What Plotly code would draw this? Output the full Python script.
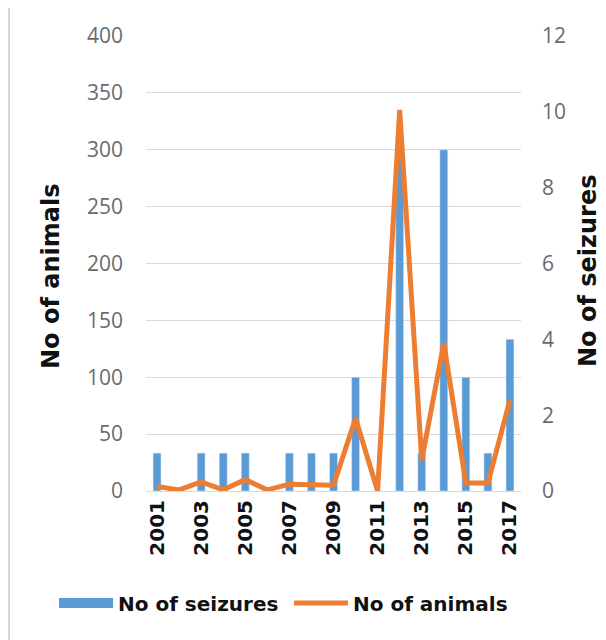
import plotly.graph_objects as go

years = list(range(2001, 2018))
seizures = [1, 0, 1, 1, 1, 0, 1, 1, 1, 3, 0, 9, 1, 9, 3, 1, 4]
animals = [4, 1, 8, 1, 10, 1, 6, 5, 5, 64, 0, 335, 27, 130, 7, 7, 80]
tick_years = list(range(2001, 2018, 2))

BLUE = "#5B9BD5"
ORANGE = "#ED7D31"
BOLD = "DejaVu Sans, sans-serif"

# page is offset by the 8px body margin, so work in window coords minus 8
W, H = 598, 632
PL, PT, PW, PH = 146 - 8, 36 - 8, 375, 455


def px(xw):
    return (xw - 146) / PW


def py(yw):
    return (491 - yw) / PH


fig = go.Figure()
fig.add_trace(go.Bar(
    x=years, y=seizures, name="No of seizures", marker_color=BLUE,
    width=0.36, yaxis="y", showlegend=False))
fig.add_trace(go.Scatter(
    x=[None], y=[None], name="No of seizures", mode="lines",
    line=dict(color=BLUE, width=12), yaxis="y"))
fig.add_trace(go.Scatter(
    x=years, y=animals, name="No of animals", mode="lines",
    line=dict(color=ORANGE, width=5), yaxis="y2"))

tickfont = dict(family="Open Sans, sans-serif", size=21, color="#6b6b6b")
titlefont = dict(family=BOLD, size=24, color="#111111", weight="bold")

fig.update_layout(
    width=W, height=H,
    margin=dict(l=PL, r=W - PL - PW, t=PT, b=H - PT - PH),
    paper_bgcolor="white", plot_bgcolor="white",
    showlegend=True,
    legend=dict(orientation="h", x=px(54), xanchor="left", y=py(603), yanchor="middle",
                font=dict(family=BOLD, size=20, color="#111111", weight="bold"),
                traceorder="normal", itemwidth=54, entrywidth=166, entrywidthmode="pixels",
                bgcolor="rgba(0,0,0,0)"),
    xaxis=dict(range=[2000.5, 2017.5], tickvals=tick_years, ticktext=[str(y) for y in tick_years],
               tickangle=-90, showgrid=False, zeroline=False, showline=True,
               linecolor="#D9D9D9", linewidth=1, ticks="", automargin=False,
               tickfont=dict(family=BOLD, size=20, color="#111111", weight="bold")),
    yaxis=dict(side="right", range=[0, 12], dtick=2, showgrid=False, zeroline=False,
               tickfont=tickfont, ticklabelstandoff=20, automargin=False),
    yaxis2=dict(side="left", overlaying="y", range=[0, 400], dtick=50, showgrid=True,
                gridcolor="#D9D9D9", gridwidth=1.3, zeroline=False, automargin=False,
                tickfont=tickfont, ticklabelstandoff=22),
    annotations=[
        dict(text="No of animals", xref="paper", yref="paper", x=px(51), y=py(276),
             textangle=-90, showarrow=False, font=titlefont, xanchor="center", yanchor="middle"),
        dict(text="No of seizures", xref="paper", yref="paper", x=px(588), y=py(271),
             textangle=-90, showarrow=False, font=titlefont, xanchor="center", yanchor="middle"),
    ],
    shapes=[dict(type="line", xref="paper", yref="paper",
                 x0=px(9), x1=px(9), y0=py(640), y1=py(8),
                 line=dict(color="#C8C8C8", width=1.5))],
)

fig.write_html("out.html")
